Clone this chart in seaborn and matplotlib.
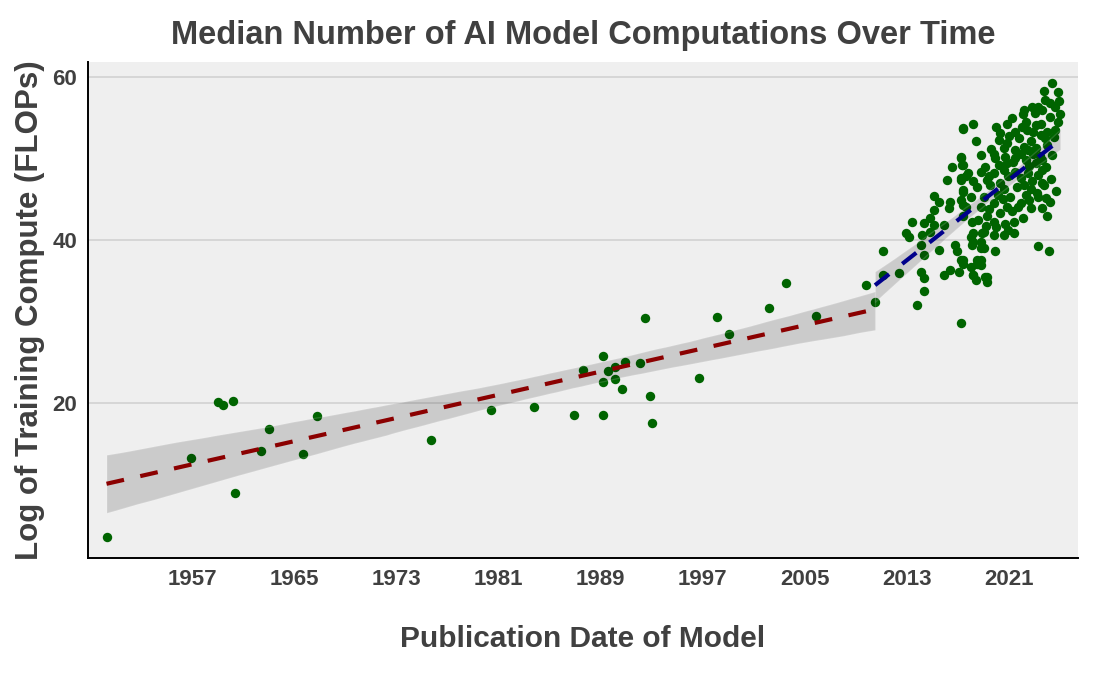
"""
Median number of AI model computations over time: scatter of log training
compute with separate linear fits before and after ~2010.
"""

import matplotlib

matplotlib.use("Agg")

import matplotlib.pyplot as plt
import pandas as pd
import seaborn as sns


# --- data (year, log10 FLOPs) ---
early_year = [
    1950.3, 1956.9, 1959.0, 1959.4, 1960.2, 1960.4, 1962.4, 1963.0, 1965.7, 1966.8,
    1975.7, 1980.4, 1983.8, 1986.9, 1987.6, 1989.2, 1989.2, 1989.2, 1989.6, 1990.1,
    1990.1, 1990.7, 1990.9, 1992.1, 1992.5, 1992.9, 1993.0, 1996.7, 1998.1, 1999.1,
    2002.2, 2003.5, 2005.9, 2009.8, 2010.5,
]
early_value = [
    3.5, 13.3, 20.1, 19.7, 20.3, 9.0, 14.1, 16.8, 13.8, 18.4,
    15.4, 19.1, 19.5, 18.5, 24.0, 25.8, 22.6, 18.5, 23.9, 24.4,
    23.0, 21.7, 25.0, 24.9, 30.4, 20.9, 17.6, 23.1, 30.5, 28.5,
    31.7, 34.7, 30.7, 34.5, 32.4,
]

recent_year = [
    2010.5, 2011.1, 2011.1, 2012.4, 2012.9, 2013.2, 2013.4, 2014.1, 2014.3, 2014.2,
    2014.3, 2014.1, 2014.3, 2014.3, 2013.8, 2015.1, 2014.8, 2015.5, 2015.9, 2015.9,
    2016.4, 2016.8, 2016.9, 2017.1, 2017.2, 2017.4, 2017.2, 2018.0, 2018.1, 2018.2,
    2018.4, 2018.5, 2018.8, 2018.9, 2019.0, 2019.1, 2019.3, 2018.8,
    2017.4, 2017.2, 2017.3, 2016.5, 2016.1, 2017.2, 2017.6, 2017.4, 2017.2, 2017.6,
    2015.1, 2015.5, 2016.4, 2016.3, 2015.1, 2014.8, 2017.4,
    2024.4, 2023.7, 2024.8, 2024.9, 2024.2, 2023.8, 2023.6, 2022.8, 2023.3, 2022.1,
    2025.0, 2024.2, 2018.2, 2017.4, 2020.8, 2022.3, 2024.8, 2023.1, 2020.3, 2021.5,
    2022.4, 2024.0, 2024.6, 2023.5, 2018.4, 2020.2, 2020.8, 2021.8, 2022.7, 2023.8,
    2022.5, 2020.6, 2021.5, 2022.2, 2023.1, 2017.2, 2018.8, 2019.9, 2020.7, 2019.8,
    2021.5, 2022.3, 2017.4, 2019.1, 2020.2, 2020.8, 2023.1, 2023.6, 2017.8, 2018.8,
    2019.8, 2020.6, 2021.5, 2022.5, 2023.6, 2017.2, 2018.2, 2019.3, 2020.3, 2022.2,
    2022.8, 2023.6,
    2017.4, 2018.5, 2019.5, 2020.6, 2021.6, 2022.7, 2023.7, 2018.0, 2019.0, 2020.1,
    2021.1, 2022.3, 2023.3, 2017.4, 2018.8, 2019.8, 2020.8, 2021.9, 2022.7, 2023.6,
    2024.2, 2019.3, 2020.3, 2021.2, 2022.1, 2024.0, 2018.1, 2019.8, 2020.7, 2021.4,
    2018.2, 2019.0, 2019.8, 2020.6, 2021.4, 2018.2, 2018.8, 2019.9, 2023.3, 2024.1,
    2017.4, 2018.5, 2018.0, 2018.8, 2018.2, 2019.3,
    2019.4, 2019.6, 2020.0, 2020.5, 2020.9, 2021.0, 2021.2, 2021.3, 2021.7, 2021.9,
    2021.9, 2022.0, 2022.2, 2022.6, 2022.6, 2022.9, 2022.9, 2023.0, 2023.2, 2023.3,
    2023.4, 2023.5, 2023.9, 2023.9, 2024.0, 2024.3, 2024.4, 2024.5, 2024.6, 2024.7,
    2018.6, 2019.4, 2019.2, 2020.0, 2020.9,
]
recent_value = [
    32.4, 38.6, 35.7, 35.9, 40.9, 40.4, 42.2, 39.4, 42.1, 40.6,
    38.2, 36.1, 35.3, 33.7, 32.0, 41.8, 41.0, 38.8, 41.8, 35.7,
    36.3, 39.4, 38.6, 36.1, 37.5, 37.1, 29.8, 40.4, 39.4, 35.7,
    35.1, 37.1, 37.5, 40.8, 39.0, 35.5, 34.9, 39.8,
    53.6, 50.2, 49.2, 48.9, 47.4, 47.6, 47.8, 45.9, 44.9, 44.1,
    45.4, 44.6, 44.7, 43.9, 43.7, 42.7, 42.9,
    59.2, 58.3, 58.1, 57.0, 56.8, 57.2, 56.0, 56.3, 56.3, 55.5,
    55.5, 55.1, 54.2, 53.7, 54.2, 54.5, 54.5, 54.1, 53.1, 53.3,
    53.5, 53.3, 53.5, 52.9, 52.1, 52.3, 51.9, 52.5, 52.1, 52.5,
    51.0, 51.3, 51.0, 51.4, 51.3, 50.0, 50.4, 50.0, 50.2, 50.6,
    50.0, 49.8, 49.2, 49.0, 49.2, 49.4, 49.4, 49.8, 48.2, 48.4,
    48.2, 48.6, 48.4, 48.2, 48.6, 47.4, 47.2, 47.4, 47.0, 46.7,
    47.2, 47.0,
    46.1, 46.5, 46.7, 46.3, 46.5, 46.3, 46.7, 45.3, 45.3, 45.5,
    45.3, 45.5, 45.3, 44.3, 44.1, 44.5, 44.1, 44.5, 43.9, 43.9,
    44.7, 42.9, 43.3, 43.5, 42.7, 42.9, 42.2, 42.2, 42.0, 42.2,
    40.8, 41.0, 40.6, 40.6, 40.8, 39.8, 39.0, 38.7, 39.2, 38.6,
    37.5, 37.5, 36.7, 36.9, 35.7, 35.5,
    47.9, 51.2, 53.8, 45.0, 47.8, 52.8, 55.0, 49.6, 44.0, 47.6,
    50.6, 53.9, 56.0, 44.9, 49.1, 50.5, 53.2, 55.6, 45.8, 48.0,
    50.3, 54.2, 45.1, 49.0, 51.7, 47.5, 50.4, 52.6, 56.3, 46.0,
    42.5, 43.8, 41.7, 41.6, 41.2,
]

x_ticks = [1957, 1965, 1973, 1981, 1989, 1997, 2005, 2013, 2021]
y_ticks = [20, 40, 60]

TEXT = "#404040"
POINT = "#006400"


def main() -> None:
    early = pd.DataFrame({"year": early_year, "compute": early_value})
    recent = pd.DataFrame({"year": recent_year, "compute": recent_value})
    # the 2010.5 point is listed in both eras, drop the duplicate for the scatter
    points = pd.concat([early, recent.iloc[1:]], ignore_index=True)

    sns.set_style("white", {"axes.facecolor": "#efefef"})
    plt.rcParams["font.family"] = ["Liberation Sans", "DejaVu Sans"]
    plt.rcParams["font.weight"] = "bold"

    fig = plt.figure(figsize=(11, 6.77), dpi=100)
    ax = fig.add_axes([0.08, 0.176, 0.9, 0.732])

    ax.yaxis.grid(True, color="#d2d2d2", linewidth=1.2)
    ax.set_axisbelow(True)

    sns.scatterplot(data=points, x="year", y="compute", color=POINT, s=46,
                    linewidth=0, ax=ax, zorder=2)

    for df, line_color in [(early, "#8b0000"), (recent, "#00008b")]:
        n_before = len(ax.collections)
        sns.regplot(data=df, x="year", y="compute", scatter=False, ax=ax,
                    color="black", seed=0,
                    line_kws=dict(color=line_color, linewidth=3.0,
                                  dashes=(4.3, 4.0), zorder=4))
        # confidence band in neutral grey, drawn over the points
        for band in ax.collections[n_before:]:
            band.set_facecolor("black")
            band.set_alpha(0.15)
            band.set_zorder(3)

    ax.set_xlim(1948.85, 2026.4)
    ax.set_ylim(1.0, 61.8)
    ax.set_xticks(x_ticks)
    ax.set_yticks(y_ticks)
    ax.tick_params(length=0, labelsize=16, labelcolor=TEXT, pad=8)

    for side in ["top", "right"]:
        ax.spines[side].set_visible(False)
    for side in ["left", "bottom"]:
        ax.spines[side].set_color("black")
        ax.spines[side].set_linewidth(1.4)

    ax.set_title("Median Number of AI Model Computations Over Time",
                 fontsize=23.5, fontweight="bold", color=TEXT, pad=13)
    ax.set_xlabel("Publication Date of Model", fontsize=21.5, fontweight="bold",
                  color=TEXT, labelpad=25)
    ax.set_ylabel("Log of Training Compute (FLOPs)", fontsize=22.5,
                  fontweight="bold", color=TEXT, labelpad=5)

    fig.savefig("out.png", dpi=100)
    plt.close(fig)


if __name__ == "__main__":
    main()
